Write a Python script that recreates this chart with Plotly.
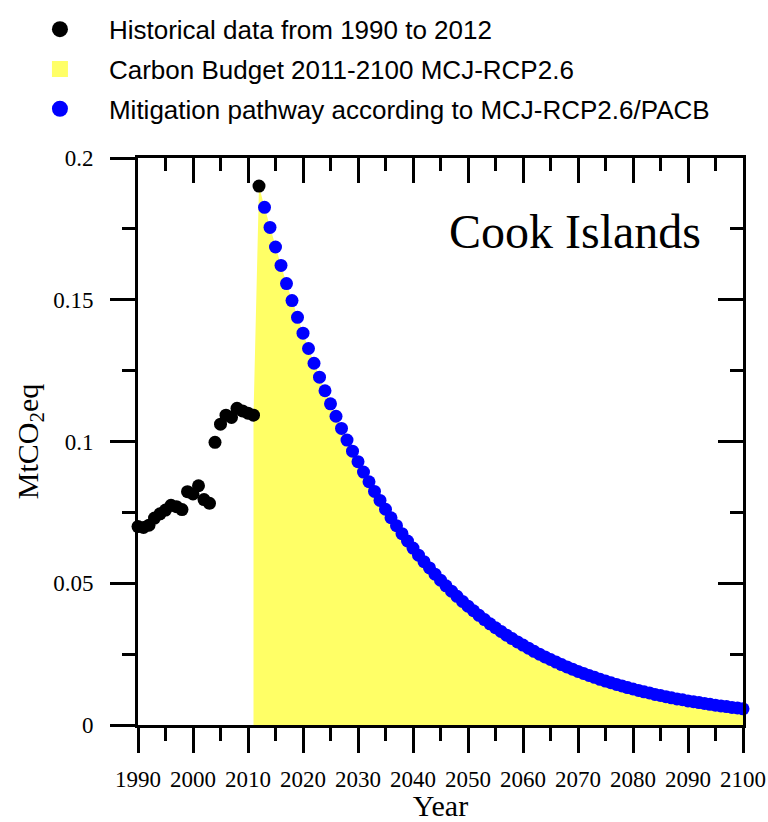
import plotly.graph_objects as go

# ---------------- data ----------------
hist_years = list(range(1990, 2013))
hist_values = [0.0700, 0.0697, 0.0705, 0.0730, 0.0745, 0.0758, 0.0775, 0.0770,
               0.0760, 0.0823, 0.0815, 0.0844, 0.0795, 0.0782, 0.0997, 0.1061,
               0.1093, 0.1085, 0.1117, 0.1108, 0.1100, 0.1093, 0.1901]

path_years = list(range(2013, 2101))
path_values = [0.1826, 0.1755, 0.1686, 0.1621, 0.1557, 0.1497, 0.1438, 0.1382,
               0.1328, 0.1276, 0.1227, 0.1179, 0.1133, 0.1089, 0.1046, 0.1005,
               0.0966, 0.0929, 0.0892, 0.0858, 0.0824, 0.0792, 0.0761, 0.0731,
               0.0703, 0.0675, 0.0649, 0.0624, 0.0599, 0.0576, 0.0554, 0.0532,
               0.0511, 0.0491, 0.0472, 0.0454, 0.0436, 0.0419, 0.0403, 0.0387,
               0.0372, 0.0357, 0.0343, 0.0330, 0.0317, 0.0305, 0.0293, 0.0282,
               0.0271, 0.0260, 0.0250, 0.0240, 0.0231, 0.0222, 0.0213, 0.0205,
               0.0197, 0.0189, 0.0182, 0.0175, 0.0168, 0.0161, 0.0155, 0.0149,
               0.0143, 0.0138, 0.0132, 0.0127, 0.0122, 0.0117, 0.0113, 0.0108,
               0.0104, 0.0100, 0.0096, 0.0092, 0.0089, 0.0085, 0.0082, 0.0079,
               0.0076, 0.0073, 0.0070, 0.0067, 0.0065, 0.0062, 0.0060, 0.0057]

budget_years = [2011, 2012] + path_years
budget_values = [hist_values[-2], hist_values[-1]] + path_values

country = "Cook Islands"
legend_labels = ["Historical data from 1990 to 2012",
                 "Carbon Budget 2011-2100 MCJ-RCP2.6",
                 "Mitigation pathway according to MCJ-RCP2.6/PACB"]

# ---------------- figure ----------------
SERIF = "Liberation Serif, Times New Roman, serif"
SANS = "Liberation Sans, Arial, sans-serif"
BLACK, YELLOW, BLUE = "black", "#FFFF66", "#0000FF"

fig = go.Figure()

fig.add_trace(go.Scatter(
    x=budget_years, y=budget_values, mode="lines",
    line=dict(width=0, color=YELLOW), fill="tozeroy", fillcolor=YELLOW,
    showlegend=False, hoverinfo="skip"))

fig.add_trace(go.Scatter(
    x=hist_years, y=hist_values, mode="markers", name=legend_labels[0],
    marker=dict(color=BLACK, size=13, symbol="circle"),
    showlegend=False, cliponaxis=False))

fig.add_trace(go.Scatter(
    x=path_years, y=path_values, mode="markers", name=legend_labels[2],
    marker=dict(color=BLUE, size=13, symbol="circle"),
    showlegend=False, cliponaxis=False))

# legend entries (larger symbols, as in the reference legend)
for grp, (lab, col, sym) in enumerate(zip(legend_labels,
                                          [BLACK, YELLOW, BLUE],
                                          ["circle", "square", "circle"])):
    fig.add_trace(go.Scatter(x=[None], y=[None], mode="markers", name=lab,
                             marker=dict(color=col, size=20, symbol=sym),
                             legendgroup=str(grp), showlegend=True))

# invisible trace to anchor the mirrored (inside-tick) axes
fig.add_trace(go.Scatter(x=[None], y=[None], xaxis="x2", yaxis="y2",
                         showlegend=False, hoverinfo="skip"))

axis_common = dict(showgrid=False, zeroline=False, showline=True,
                   linecolor="black", linewidth=3, tickcolor="black",
                   tickwidth=3, ticklen=25, automargin=False)

fig.update_layout(
    template="none",
    width=768, height=822,
    margin=dict(l=138, r=25, t=158, b=97),
    paper_bgcolor="white", plot_bgcolor="white",
    showlegend=True,
    legend=dict(x=-0.21, y=0.993, yref="container", xanchor="left", yanchor="top",
                font=dict(family=SANS, size=26, color="black"),
                traceorder="grouped", tracegroupgap=3,
                itemwidth=88, bgcolor="rgba(0,0,0,0)"),
    xaxis=dict(range=[1990, 2100], dtick=10, tick0=1990, ticks="outside",
               tickfont=dict(family=SERIF, size=23, color="black"),
               ticklabelstandoff=6,
               minor=dict(dtick=5, ticks="outside", ticklen=13, tickwidth=3,
                          tickcolor="black"),
               title=dict(text="Year", font=dict(family=SERIF, size=30, color="black"),
                          standoff=2),
               **axis_common),
    yaxis=dict(range=[0, 0.2], dtick=0.05, ticks="outside",
               tickfont=dict(family=SERIF, size=23, color="black"),
               ticklabelstandoff=12,
               minor=dict(dtick=0.025, ticks="outside", ticklen=13, tickwidth=3,
                          tickcolor="black"),
               title=dict(text="MtCO<sub>2</sub>eq",
                          font=dict(family=SERIF, size=30, color="black"),
                          standoff=6),
               **axis_common),
    xaxis2=dict(range=[1990, 2100], dtick=10, tick0=1990, ticks="inside",
                overlaying="x", side="top", anchor="y2", showticklabels=False,
                minor=dict(dtick=5, ticks="inside", ticklen=13, tickwidth=3,
                           tickcolor="black"),
                **axis_common),
    yaxis2=dict(range=[0, 0.2], dtick=0.05, ticks="inside",
                overlaying="y", side="right", anchor="x2", showticklabels=False,
                minor=dict(dtick=0.025, ticks="inside", ticklen=13, tickwidth=3,
                           tickcolor="black"),
                **axis_common),
    annotations=[dict(text=country, xref="paper", yref="paper",
                      x=0.934, y=0.8695, xanchor="right", yanchor="middle",
                      showarrow=False,
                      font=dict(family=SERIF, size=48, color="black"))],
)

fig.write_html("out.html",
               config={"displayModeBar": False},
               post_script="document.body.style.margin='0px';"
                           "document.body.style.overflow='hidden';")
